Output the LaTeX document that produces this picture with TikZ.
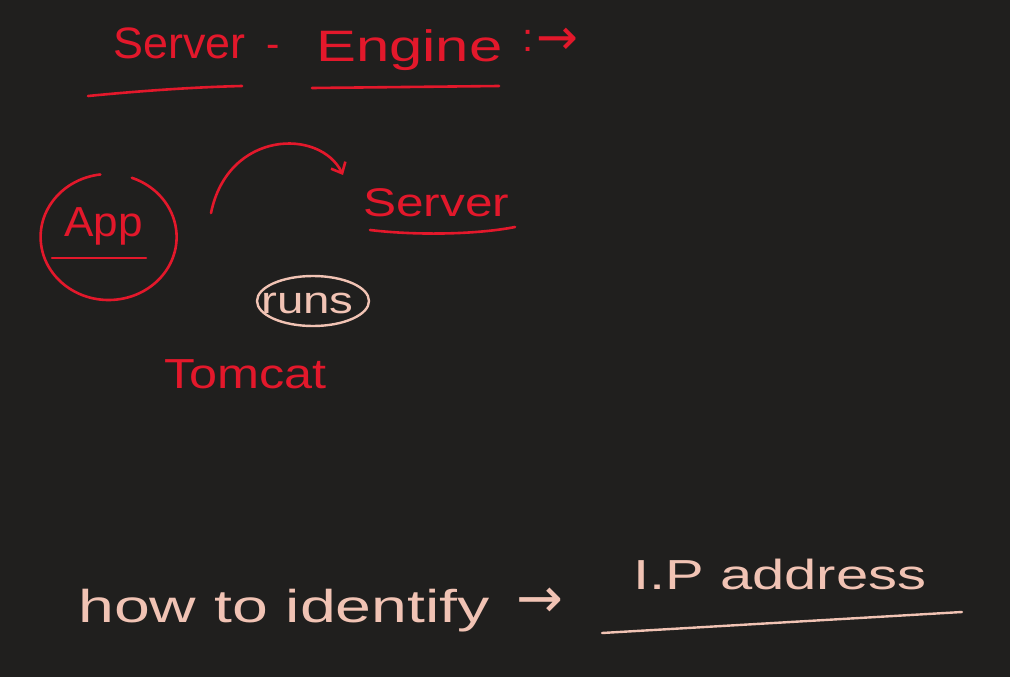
\documentclass[tikz,border=0pt]{standalone}
\usepackage{fontspec}
\usepackage{graphicx}
\setmainfont{Liberation Sans}
\newfontfamily\symfont{DejaVu Sans}
\usetikzlibrary{arrows.meta}
\definecolor{bg}{HTML}{201F1E}
\definecolor{inkred}{HTML}{E3182B}
\definecolor{inkpink}{HTML}{F1C3B4}
\tikzset{
  redtxt/.style={text=inkred, inner sep=0pt, anchor=base west},
  pinktxt/.style={text=inkpink, inner sep=0pt, anchor=base west},
  redline/.style={draw=inkred, line width=2.6pt, line cap=round},
  pinkline/.style={draw=inkpink, line width=2.4pt, line cap=round},
}
\begin{document}
\begin{tikzpicture}[x=1pt,y=-1pt]
\fill[bg] (0,0) rectangle (1010,677);
\useasboundingbox (0,0) rectangle (1010,677);

% title
\node[redtxt, font=\fontsize{44}{44}\selectfont] (t1) at (113,59) {\scalebox{1.02}[1]{Server}};
\node[redtxt, font=\fontsize{40}{40}\selectfont] (dash) at (266,58) {-};
\node[redtxt, font=\fontsize{44}{44}\selectfont] (t2) at (316,62) {\scalebox{1.36}[1]{Engine}};
\node[redtxt, font=\fontsize{40}{40}\selectfont] (t3) at (522,52) {:};
\node[redtxt, font=\fontsize{50}{50}\selectfont] (t4) at (536,55) {{\symfont→}};
\coordinate (u1a) at (88,96); \coordinate (u1b) at (242,86);
\coordinate (u2a) at (312,88); \coordinate (u2b) at (499,86);
\draw[redline] (u1a) .. controls (150,90) and (200,87) .. (u1b);
\draw[redline] (u2a) -- (u2b);

% App circle
\node[redtxt, font=\fontsize{42}{42}\selectfont] (app) at (64,236) {\scalebox{1.05}[1]{App}};
\coordinate (appc) at (108,237);
\draw[redline] (appc) ++(-97:63) arc[start angle=-97, end angle=-430, x radius=68, y radius=63];
\coordinate (ua) at (52,258); \coordinate (ub) at (146,258);
\draw[redline] (ua) -- (ub);

% Server
\node[redtxt, font=\fontsize{40}{40}\selectfont] (srv) at (363,216) {\scalebox{1.24}[1]{Server}};
\coordinate (sa) at (370,230); \coordinate (sb) at (515,227);
\draw[redline] (sa) .. controls (420,236) and (480,234) .. (sb);

% curved arrow
\coordinate (arrS) at (211,213);
\coordinate (arrE) at (343,175);
\draw[redline, -{Straight Barb[length=9pt,width=16pt]}] (arrS) .. controls (228,130) and (320,128) .. (arrE);

% runs
\node[pinktxt, font=\fontsize{38}{38}\selectfont] (runs) at (261,313) {\scalebox{1.25}[1]{runs}};
\draw[pinkline] (313,301) ellipse[x radius=56, y radius=25];

% Tomcat
\node[redtxt, font=\fontsize{42}{42}\selectfont] (tom) at (164,388) {\scalebox{1.2}[1]{Tomcat}};

% bottom
\node[pinktxt, font=\fontsize{46}{46}\selectfont] (how) at (78,622) {\scalebox{1.4}[1]{how to identify}};
\node[pinktxt, font=\fontsize{56}{56}\selectfont] (harr) at (516,617) {{\symfont→}};
\node[pinktxt, font=\fontsize{42}{42}\selectfont] (ip) at (633,589) {\scalebox{1.38}[1]{I.P address}};
\coordinate (ia) at (602,633); \coordinate (ib) at (962,612);
\draw[pinkline] (ia) -- (ib);
\end{tikzpicture}
\end{document}
